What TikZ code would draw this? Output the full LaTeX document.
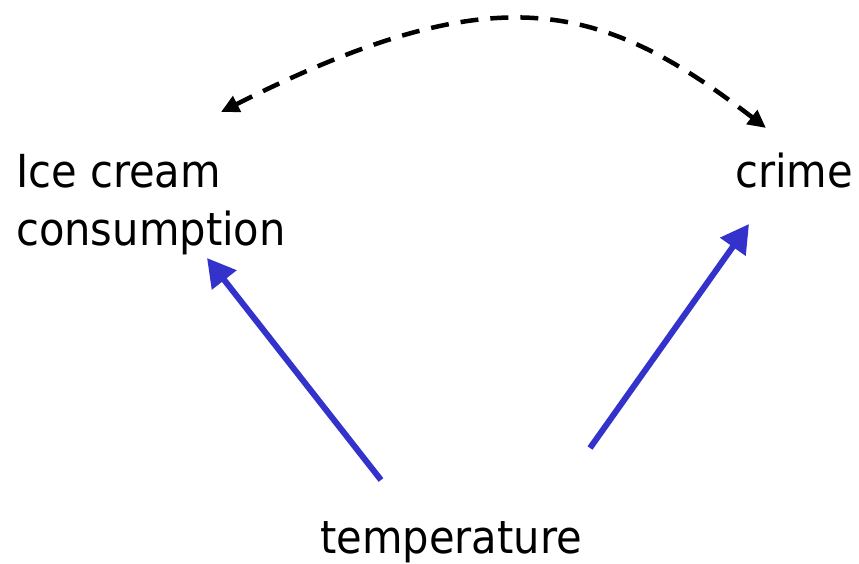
\documentclass[tikz,border=0pt]{standalone}
\usepackage{fontspec}
\setmainfont{DejaVu Sans}[FakeStretch=0.915]
\usetikzlibrary{arrows.meta}
\definecolor{arrowblue}{RGB}{51,51,204}
\begin{document}
\begin{tikzpicture}[x=1pt,y=-1pt,
  lbl/.style={inner sep=0pt, anchor=base west, font=\fontsize{45.5}{57}\selectfont},
  cause/.style={draw=arrowblue, line width=6pt, -{Triangle[length=28pt,width=30pt,fill=arrowblue]}},
  corr/.style={draw=black, line width=4.5pt, dash pattern=on 18pt off 12pt,
    {Triangle[length=18pt,width=17pt]}-{Triangle[length=18pt,width=17pt]}}]
\useasboundingbox (0,0) rectangle (859,564);
\fill[white] (0,0) rectangle (859,564);
\node[lbl] (ice) at (16,188) {Ice cream};
\node[lbl] (cons) at (16,245) {consumption};
\node[lbl] (crime) at (735,188) {crime};
\node[lbl] (temp) at (320,553) {temperature};
\coordinate (tl) at (381,480);
\coordinate (tr) at (590,448);
\coordinate (ct) at (207,258);
\coordinate (cr) at (749,224);
\coordinate (dl) at (221,112);
\coordinate (dr) at (766,128);
\draw[cause] (tl) -- (ct);
\draw[cause] (tr) -- (cr);
\draw[corr] (dl) .. controls (495,-26) and (600,0) .. (dr);
\end{tikzpicture}
\end{document}
